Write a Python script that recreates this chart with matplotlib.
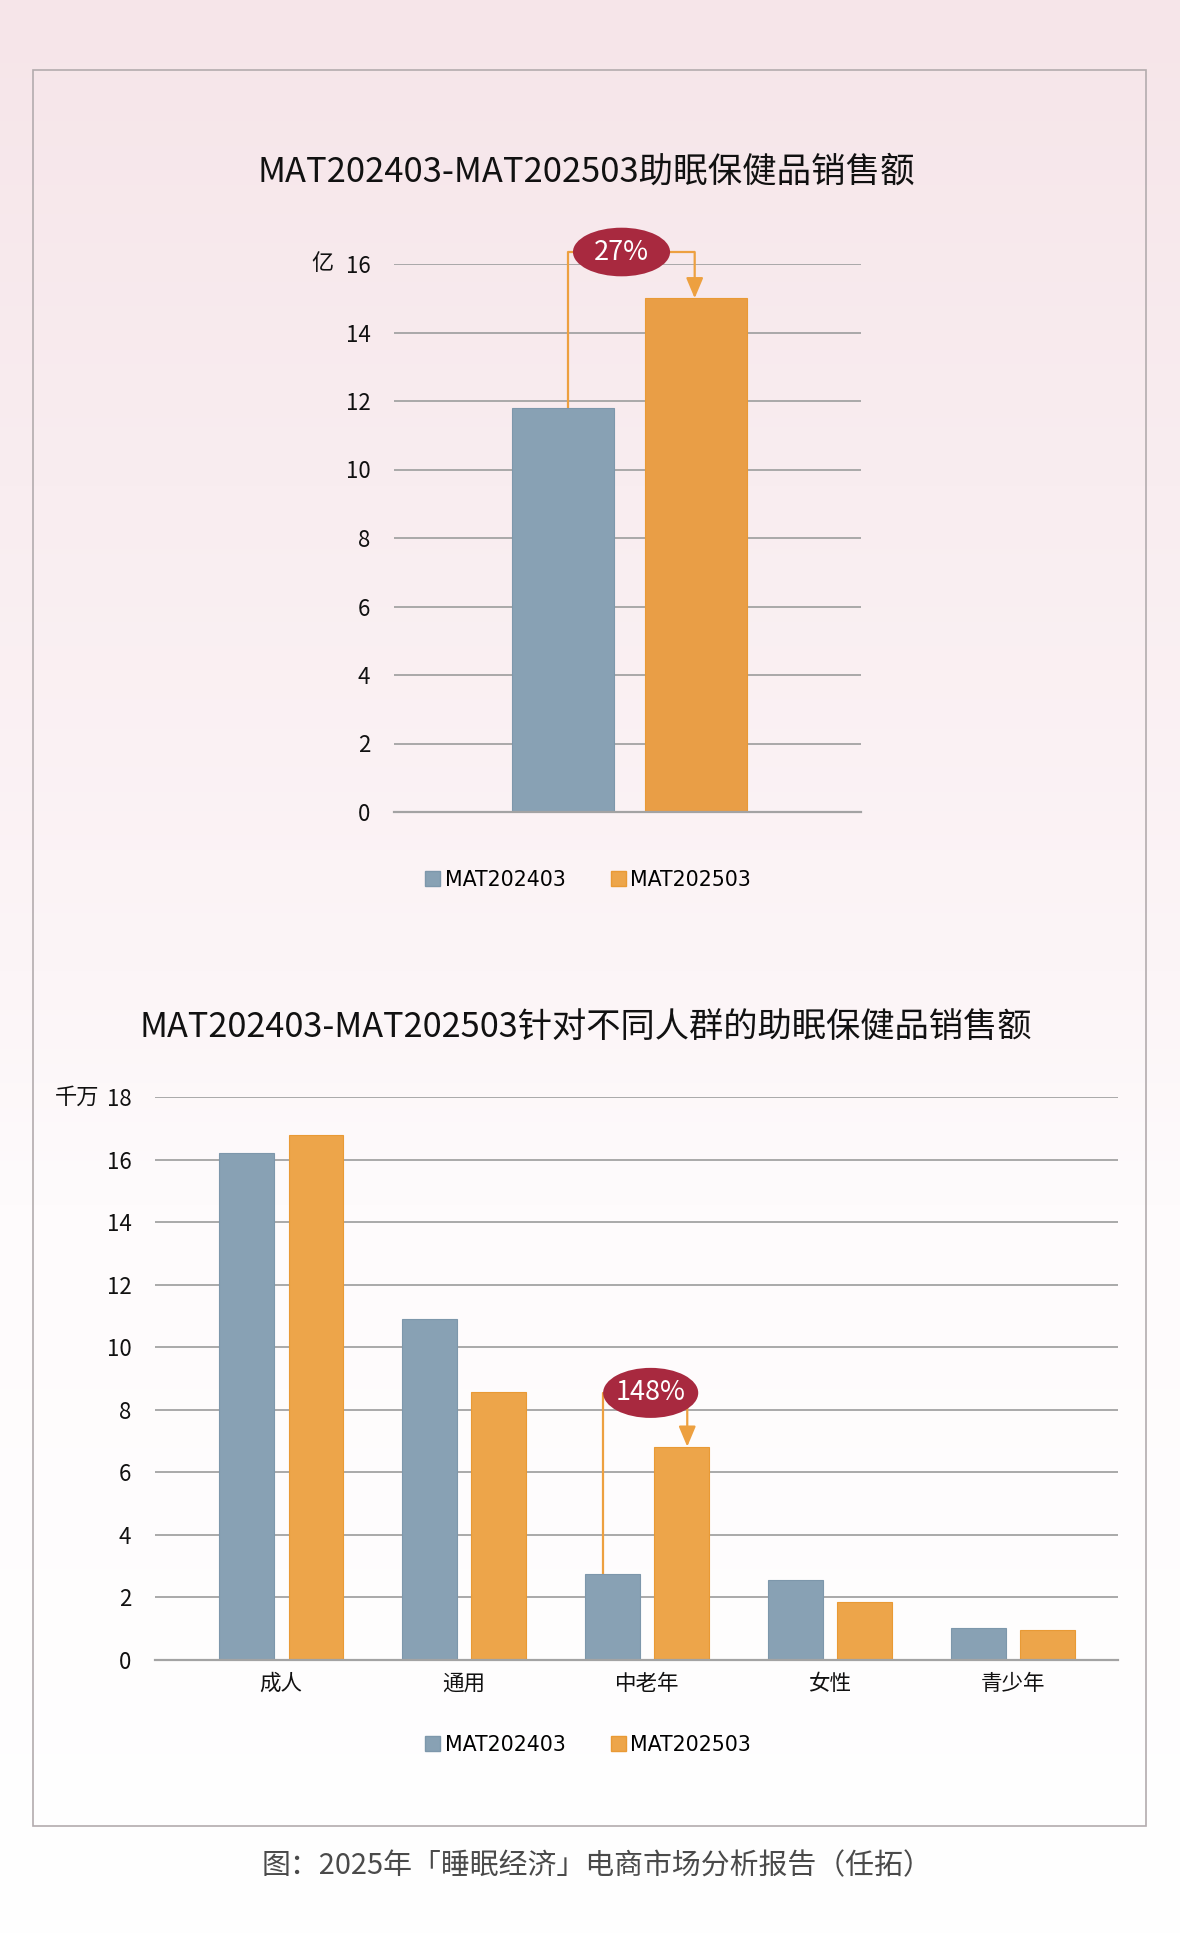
import numpy as np
import matplotlib
matplotlib.use("Agg")
import matplotlib.pyplot as plt
from matplotlib.patches import Ellipse, Rectangle
from matplotlib.colors import LinearSegmentedColormap

plt.rcParams['font.family'] = ['Noto Sans CJK SC', 'DejaVu Sans']

# ---------------- data ----------------
series_names = ["MAT202403", "MAT202503"]
total_values = [11.8, 15.0]          # 亿
total_growth = "27%"

groups = ["成人", "通用", "中老年", "女性", "青少年"]
group_2403 = [16.2, 10.9, 2.74, 2.55, 1.03]   # 千万
group_2503 = [16.8, 8.56, 6.82, 1.87, 0.96]
group_growth_label = "148%"
group_growth_idx = 2

title1 = "MAT202403-MAT202503助眠保健品销售额"
title2 = "MAT202403-MAT202503针对不同人群的助眠保健品销售额"
unit1 = "亿"
unit2 = "千万"
caption = "图：2025年「睡眠经济」电商市场分析报告（任拓）"

# ---------------- style ----------------
W, H = 1180, 1943
BLUE = "#88a1b4"
BLUE_E = "#7d97ab"
ORANGE = "#eda54a"
ORANGE_E = "#e99a35"
ORANGE1 = "#e99e46"
RED = "#a8293f"
GRID = "#a3a3a3"
LINE = "#eda040"


def box(l, t, r, b):
    return [l / W, 1 - b / H, (r - l) / W, (b - t) / H]


fig = plt.figure(figsize=(W / 100, H / 100), dpi=100)

# background gradient
bg = fig.add_axes([0, 0, 1, 1])
bg.set_axis_off()
cmap = LinearSegmentedColormap.from_list(
    "bg", [(0, "#f6e5e9"), (0.5, "#fcf5f7"), (0.62, "#fefbfc"), (1, "#ffffff")])
grad = np.linspace(0, 1, 400).reshape(-1, 1)
bg.imshow(grad, aspect="auto", cmap=cmap, extent=[0, 1, 0, 1], origin="upper")
bg.set_xlim(0, 1)
bg.set_ylim(0, 1)
bg.add_patch(Rectangle((33 / W, 1 - 1826 / H), (1146 - 33) / W, (1826 - 70) / H,
                       fill=False, edgecolor="#b3acae", lw=1.2))

fig.text(586 / W, 1 - 172 / H, title1, ha="center", va="center", fontsize=24.8, color="#111111")
fig.text(586 / W, 1 - 1027 / H, title2, ha="center", va="center", fontsize=24.7, color="#111111")
fig.text(597 / W, 1 - 1866 / H, caption, ha="center", va="center", fontsize=20.8, color="#4a4a4a")

# unit labels
fig.text(322 / W, 1 - 264 / H, unit1, ha="center", va="center", fontsize=16, color="#111111")
fig.text(99 / W, 1 - 1097 / H, unit2, ha="right", va="center", fontsize=16, color="#111111")


def style_axes(ax, ymax, step):
    ax.set_facecolor("none")
    for s in ["left", "right", "top"]:
        ax.spines[s].set_visible(False)
    ax.spines["bottom"].set_color(GRID)
    ax.spines["bottom"].set_linewidth(1.6)
    ax.set_ylim(0, ymax)
    ax.set_yticks(np.arange(0, ymax + 0.1, step))
    ax.yaxis.grid(True, color=GRID, lw=1.3)
    ax.set_axisbelow(True)
    ax.tick_params(axis="y", length=0, labelsize=16, pad=17, labelcolor="#111111")
    ax.tick_params(axis="x", length=0, labelsize=15.5, pad=9, labelcolor="#111111")


def connector(ax, x_left, x_right, y_left, y_right, y_top, ex, ew, eh, label):
    ax.plot([x_left, x_left, x_right], [y_left, y_top, y_top], color=LINE, lw=1.6,
            clip_on=False, zorder=4, solid_capstyle="butt")
    ax.annotate("", xy=(x_right, y_right), xytext=(x_right, y_top),
                arrowprops=dict(arrowstyle="-|>,head_width=0.26,head_length=0.62",
                                color=LINE, lw=1.6, mutation_scale=20,
                                shrinkA=0, shrinkB=0),
                annotation_clip=False, zorder=4)
    ax.add_patch(Ellipse((ex, y_top), ew, eh, facecolor=RED, edgecolor="none",
                         clip_on=False, zorder=5))
    ax.text(ex, y_top, label, color="white", ha="center", va="center",
            fontsize=19.5, zorder=6, clip_on=False)


# ---------------- chart 1 ----------------
ax1 = fig.add_axes(box(394, 264, 861, 812))
style_axes(ax1, 16, 2)
x1 = np.arange(len(total_values))
ax1.bar(x1[0], total_values[0], width=0.77, color=BLUE, edgecolor=BLUE_E, lw=0.8)
ax1.bar(x1[1], total_values[1], width=0.77, color=ORANGE1, edgecolor=ORANGE_E, lw=0.8)
ax1.set_xlim(-1.27, 2.24)
ax1.set_xticks([])
connector(ax1, x1[0] + 0.04, x1[1] - 0.01, total_values[0], total_values[1], 16.35,
          0.44, 0.73, 1.42, total_growth)

leg_handles = [Rectangle((0, 0), 1, 1, facecolor=BLUE, edgecolor=BLUE_E),
               Rectangle((0, 0), 1, 1, facecolor=ORANGE, edgecolor=ORANGE_E)]

fig.legend(handles=leg_handles, labels=series_names, loc="center",
           bbox_to_anchor=(588 / W, 1 - 880 / H),
           ncol=2, frameon=False, handlelength=0.75, handleheight=0.75,
           handletextpad=0.2, columnspacing=2.2, prop={"family": "DejaVu Sans", "size": 14.8})

# ---------------- chart 2 ----------------
ax2 = fig.add_axes(box(155, 1097, 1118, 1660))
style_axes(ax2, 18, 2)
x2 = np.arange(len(groups))
off = 0.19
bw = 0.30
ax2.bar(x2 - off, group_2403, width=bw, color=BLUE, edgecolor=BLUE_E, lw=0.8)
ax2.bar(x2 + off, group_2503, width=bw, color=ORANGE, edgecolor=ORANGE_E, lw=0.8)
ax2.set_xlim(-0.69, 4.575)
ax2.set_xticks(x2)
ax2.set_xticklabels(groups)
i = group_growth_idx
connector(ax2, x2[i] - off - 0.05, x2[i] + off + 0.03, group_2403[i], group_2503[i], 8.54,
          x2[i] + 0.02, 0.52, 1.6, group_growth_label)

fig.legend(handles=leg_handles, labels=series_names, loc="center",
           bbox_to_anchor=(588 / W, 1 - 1745 / H),
           ncol=2, frameon=False, handlelength=0.75, handleheight=0.75,
           handletextpad=0.2, columnspacing=2.2, prop={"family": "DejaVu Sans", "size": 14.8})

fig.savefig("out.png", dpi=100)
